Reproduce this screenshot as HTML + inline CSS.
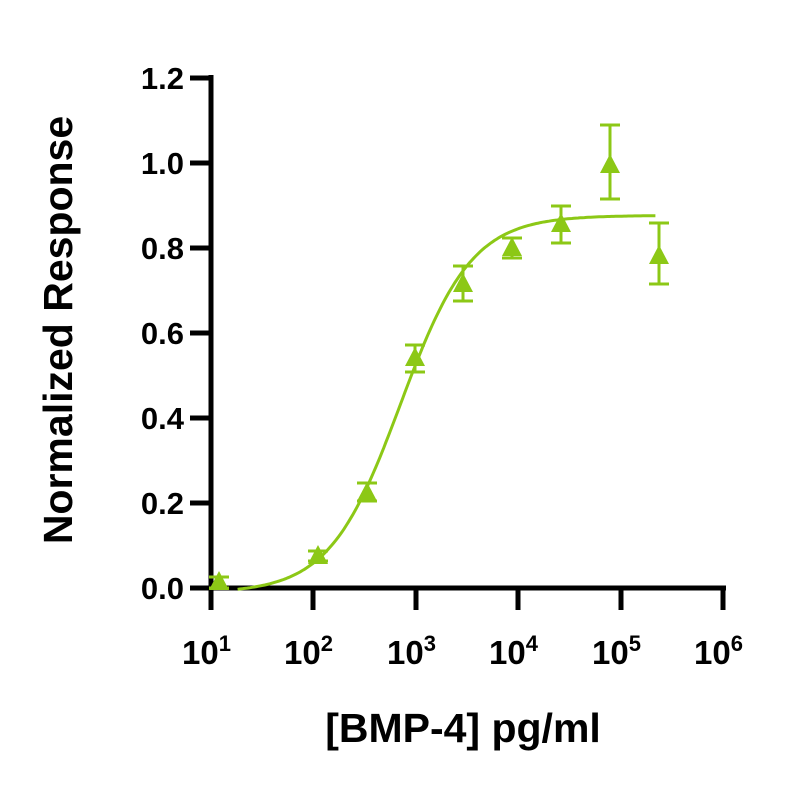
<!DOCTYPE html>
<html><head><style>
body{margin:0;background:#fff}
text{font-family:"Liberation Sans",sans-serif;font-weight:bold;fill:#000}
</style></head><body>
<svg id="s" width="800" height="800" xmlns="http://www.w3.org/2000/svg">
<g stroke="#000" stroke-width="5" fill="none">
<line x1="211" y1="75" x2="211" y2="610"/>
<line x1="209" y1="588" x2="726" y2="588"/>
<line x1="190" y1="78" x2="211" y2="78"/>
<line x1="190" y1="163" x2="211" y2="163"/>
<line x1="190" y1="248" x2="211" y2="248"/>
<line x1="190" y1="333" x2="211" y2="333"/>
<line x1="190" y1="418" x2="211" y2="418"/>
<line x1="190" y1="503" x2="211" y2="503"/>
<line x1="190" y1="588" x2="211" y2="588"/>
<line x1="313" y1="588" x2="313" y2="610"/>
<line x1="416" y1="588" x2="416" y2="610"/>
<line x1="518" y1="588" x2="518" y2="610"/>
<line x1="621" y1="588" x2="621" y2="610"/>
<line x1="723" y1="588" x2="723" y2="610"/>
</g>
<g font-size="31" text-anchor="end">
<text x="184" y="89">1.2</text>
<text x="184" y="174">1.0</text>
<text x="184" y="259">0.8</text>
<text x="184" y="344">0.6</text>
<text x="184" y="429">0.4</text>
<text x="184" y="514">0.2</text>
<text x="184" y="599">0.0</text>
</g>
<g font-size="33">
<text x="182" y="664">10<tspan font-size="22" dy="-13">1</tspan></text>
<text x="284" y="664">10<tspan font-size="22" dy="-13">2</tspan></text>
<text x="387" y="664">10<tspan font-size="22" dy="-13">3</tspan></text>
<text x="489" y="664">10<tspan font-size="22" dy="-13">4</tspan></text>
<text x="592" y="664">10<tspan font-size="22" dy="-13">5</tspan></text>
<text x="694" y="664">10<tspan font-size="22" dy="-13">6</tspan></text>
</g>
<text x="463" y="742" font-size="41" text-anchor="middle">[BMP-4] pg/ml</text>
<text transform="translate(72,330) rotate(-90)" font-size="41" text-anchor="middle">Normalized Response</text>
<path id="c" fill="none" stroke="#8cc816" stroke-width="3"/>
<g id="d" stroke="#8cc816" stroke-width="3" fill="#8cc816"></g>
</svg>
<script>
var pts="";
for(var i=0;i<=200;i++){var l=1.26+(5.34-1.26)*i/200;var v=-0.012+0.887/(1+Math.pow(10,(2.85-l)*1.25));
var x=211+(l-1)*102.4,y=588-v*425.8;pts+=(i?"L":"M")+x.toFixed(1)+" "+y.toFixed(1);}
document.getElementById("c").setAttribute("d",pts);
var d=[[219,582,577,588],[318,556,551,561],[367,493,483,501],[415,358,345,372],[463,284,266,301],[512,248,238,258],[561,224,206,243],[610,165,125,199],[659,256,223,284]];
var h="";
d.forEach(function(p){var x=p[0],y=p[1];
h+='<line x1="'+x+'" y1="'+p[2]+'" x2="'+x+'" y2="'+p[3]+'"/>';
h+='<line x1="'+(x-10)+'" y1="'+p[2]+'" x2="'+(x+10)+'" y2="'+p[2]+'"/>';
h+='<line x1="'+(x-10)+'" y1="'+p[3]+'" x2="'+(x+10)+'" y2="'+p[3]+'"/>';
h+='<polygon stroke="none" points="'+x+','+(y-11)+' '+(x-10)+','+(y+8)+' '+(x+10)+','+(y+8)+'"/>';});
document.getElementById("d").innerHTML=h;
</script>
</body></html>
